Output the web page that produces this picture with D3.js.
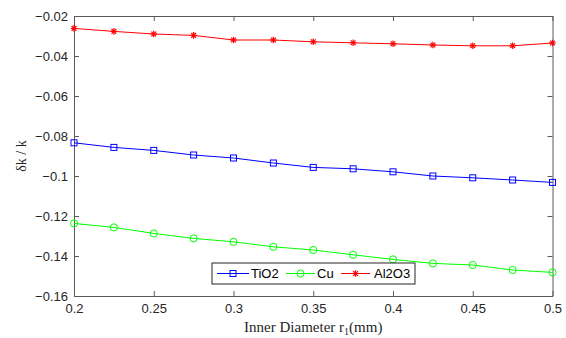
<!DOCTYPE html>
<html><head><meta charset="utf-8">
<script src="https://cdn.jsdelivr.net/npm/d3@7"></script>
<style>body{margin:0;background:#fff}</style>
</head><body>
<svg id="c" width="566" height="338"></svg>
<script>
const xValues = [0.2,0.225,0.25,0.275,0.3,0.325,0.35,0.375,0.4,0.425,0.45,0.475,0.5];
const tio2 = [-0.0834,-0.0857,-0.0872,-0.0895,-0.0910,-0.0935,-0.0957,-0.0964,-0.0979,-0.1000,-0.1009,-0.1020,-0.1032];
const cu = [-0.1237,-0.1257,-0.1287,-0.1312,-0.1329,-0.1354,-0.1370,-0.1394,-0.1417,-0.1437,-0.1445,-0.1470,-0.1482];
const al2o3 = [-0.0262,-0.0277,-0.0290,-0.0297,-0.0320,-0.0320,-0.0329,-0.0334,-0.0339,-0.0345,-0.0349,-0.0349,-0.0335];
const xTicks = [0.2,0.25,0.3,0.35,0.4,0.45,0.5];
const yTicks = [-0.02,-0.04,-0.06,-0.08,-0.1,-0.12,-0.14,-0.16];
const seriesNames = ["TiO2","Cu","Al2O3"];
const seriesColors = ["#0000ff","#00ff00","#ff0000"];
const seriesMarkers = ["square","circle","star"];

const svg = d3.select("#c");
const L=74, R=552.5, T=16, B=296;
const x = d3.scaleLinear().domain([0.2,0.5]).range([L,R]);
const y = d3.scaleLinear().domain([-0.16,-0.02]).range([B,T]);
const axisColor = "#5a5a5a", textColor = "#262626";
const tickFont = "Liberation Sans, Arial, sans-serif";

// axes
const gx = svg.append("g").attr("transform",`translate(0,${B})`)
  .call(d3.axisBottom(x).tickValues(xTicks).tickSizeInner(-5).tickSizeOuter(0).tickPadding(7).tickFormat(d=>d3.format("")(d)));
const gxt = svg.append("g").attr("transform",`translate(0,${T})`)
  .call(d3.axisTop(x).tickValues(xTicks).tickSizeInner(-5).tickSizeOuter(0).tickFormat(""));
const gy = svg.append("g").attr("transform",`translate(${L},0)`)
  .call(d3.axisLeft(y).tickValues(yTicks).tickSizeInner(-5).tickSizeOuter(0).tickPadding(6).tickFormat(d=>d3.format("")(+d.toFixed(2))));
const gyr = svg.append("g").attr("transform",`translate(${R},0)`)
  .call(d3.axisRight(y).tickValues(yTicks).tickSizeInner(-5).tickSizeOuter(0).tickFormat(""));
[gx,gxt,gy,gyr].forEach(g=>{
  g.selectAll("path.domain").attr("stroke",axisColor).attr("stroke-width",1);
  g.selectAll(".tick line").attr("stroke",axisColor);
  g.selectAll("text").attr("fill",textColor).attr("font-family",tickFont).attr("font-size","13px");
});
gx.selectAll("text").attr("dy","0.75em");

// series
const data = [tio2,cu,al2o3];
const line = d3.line().x((d,i)=>x(xValues[i])).y(d=>y(d));
function drawMarker(g,type,cx,cy,color){
  if(type==="square"){
    g.append("rect").attr("x",cx-3).attr("y",cy-3).attr("width",6).attr("height",6)
      .attr("fill","none").attr("stroke",color).attr("stroke-width",1);
  } else if(type==="circle"){
    g.append("circle").attr("cx",cx).attr("cy",cy).attr("r",3.6)
      .attr("fill","none").attr("stroke",color).attr("stroke-width",1);
  } else {
    const r=3.3;
    [[0,-r,0,r],[-r,0,r,0],[-r*0.72,-r*0.72,r*0.72,r*0.72],[-r*0.72,r*0.72,r*0.72,-r*0.72]].forEach(s=>{
      g.append("line").attr("x1",cx+s[0]).attr("y1",cy+s[1]).attr("x2",cx+s[2]).attr("y2",cy+s[3])
        .attr("stroke",color).attr("stroke-width",1.2);
    });
  }
}
data.forEach((vals,k)=>{
  const g = svg.append("g");
  g.append("path").datum(vals).attr("d",line).attr("fill","none")
    .attr("stroke",seriesColors[k]).attr("stroke-width",1);
  vals.forEach((v,i)=>drawMarker(g,seriesMarkers[k],x(xValues[i]),y(v),seriesColors[k]));
});

// legend
const lg = svg.append("g");
lg.append("rect").attr("x",212).attr("y",263).attr("width",203).attr("height",21)
  .attr("fill","#fff").attr("stroke","#262626").attr("stroke-width",1);
const items = [{x0:217,x1:249,tx:251},{x0:286,x1:315,tx:317},{x0:341,x1:370,tx:374}];
items.forEach((it,k)=>{
  const cy=273.5;
  lg.append("line").attr("x1",it.x0).attr("x2",it.x1).attr("y1",cy).attr("y2",cy)
    .attr("stroke",seriesColors[k]).attr("stroke-width",1);
  drawMarker(lg,seriesMarkers[k],(it.x0+it.x1)/2,cy,seriesColors[k]);
  lg.append("text").attr("x",it.tx).attr("y",cy).attr("dy","0.36em")
    .attr("font-family",tickFont).attr("font-size","13px").attr("fill","#000").text(seriesNames[k]);
});

// axis labels
svg.append("text").attr("x",(L+R)/2).attr("y",332).attr("text-anchor","middle")
  .attr("font-family","Liberation Serif, Times New Roman, serif").attr("font-size","15px").attr("fill",textColor)
  .html('Inner Diameter r<tspan font-size="10px" dy="3">1</tspan><tspan dy="-3">(mm)</tspan>');
svg.append("text").attr("transform",`translate(26,${(T+B)/2}) rotate(-90)`).attr("text-anchor","middle")
  .attr("font-family","Liberation Serif, Times New Roman, serif").attr("font-size","14px").attr("fill",textColor)
  .text("δk / k");
</script>
</body></html>
